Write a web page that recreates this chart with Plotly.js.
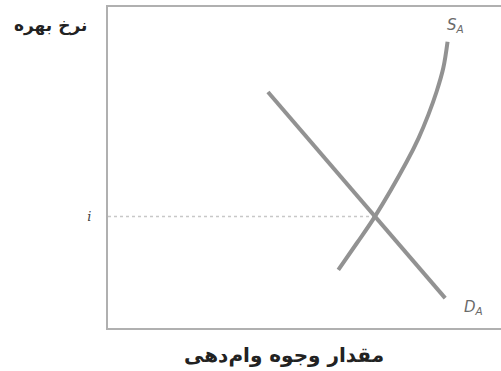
<!DOCTYPE html>
<html>
<head>
<meta charset="utf-8">
<script src="https://cdn.plot.ly/plotly-3.0.1.min.js"></script>
<style>html,body{margin:0;padding:0;background:#fff;}</style>
</head>
<body>
<div id="chart" style="width:501px;height:371px;"></div>
<script>
// Supply curve S_A (quantity of loanable funds, interest rate)
var supplyQ = [5.86, 6.33, 6.79, 7.60, 7.90, 8.15, 8.36, 8.53, 8.64];
var supplyR = [1.81, 2.64, 3.47, 5.18, 5.91, 6.64, 7.36, 8.09, 8.92];
// Demand curve D_A
var demandQ = [4.07, 8.58];
var demandR = [7.35, 0.93];
// Equilibrium
var eqQ = 6.79;
var eqRate = 3.47;
var rateTickText = ['<i>i</i>'];
var curveLabels = ['S<sub>A</sub>', 'D<sub>A</sub>'];
var labelQ = [8.83, 9.29];
var labelR = [9.41, 0.65];
var xTitle = 'مقدار وجوه وام‌دهی';
var yTitle = 'نرخ بهره';

var curveColor = '#929292';
var traces = [
  {x: [0, eqQ], y: [eqRate, eqRate], mode: 'lines', line: {color: '#c8c8c8', width: 1.5, dash: 'dot'}, hoverinfo: 'skip'},
  {x: demandQ, y: demandR, mode: 'lines', line: {color: curveColor, width: 4}},
  {x: supplyQ, y: supplyR, mode: 'lines', line: {color: curveColor, width: 4, shape: 'spline', smoothing: 1}}
];

var annotations = curveLabels.map(function(t, i) {
  return {x: labelQ[i], y: labelR[i], xref: 'x', yref: 'y', text: '<i>' + t + '</i>', showarrow: false,
          font: {family: 'DejaVu Sans', size: 15, color: '#6a6a6a'}};
});
annotations.push({x: (50 - 108) / 393, y: (328 - 25) / 321, xref: 'paper', yref: 'paper', xanchor: 'center', yanchor: 'middle',
  text: '<b>' + yTitle + '</b>', showarrow: false, font: {family: 'DejaVu Sans', size: 17, color: '#222'}});
annotations.push({x: (284 - 108) / 393, y: -27 / 321, xref: 'paper', yref: 'paper', xanchor: 'center', yanchor: 'middle',
  text: '<b>' + xTitle + '</b>', showarrow: false, font: {family: 'DejaVu Sans', size: 20, color: '#222'}});

var layout = {
  width: 501, height: 371,
  margin: {l: 108, r: 0, t: 7, b: 43, pad: 0},
  paper_bgcolor: '#fff', plot_bgcolor: '#fff',
  showlegend: false,
  xaxis: {range: [0, 10], showgrid: false, zeroline: false, showticklabels: false, ticks: '',
          showline: true, mirror: true, linecolor: '#b0b0b0', linewidth: 2, fixedrange: true},
  yaxis: {range: [0, 10], showgrid: false, zeroline: false, tickvals: [eqRate], ticktext: rateTickText,
          ticks: 'outside', ticklen: 12, tickcolor: 'rgba(0,0,0,0)',
          tickfont: {family: 'DejaVu Serif', size: 13, color: '#444'},
          showline: true, linecolor: '#b0b0b0', linewidth: 2, fixedrange: true},
  annotations: annotations
};

Plotly.newPlot('chart', traces, layout, {displayModeBar: false, staticPlot: true});
</script>
</body>
</html>
